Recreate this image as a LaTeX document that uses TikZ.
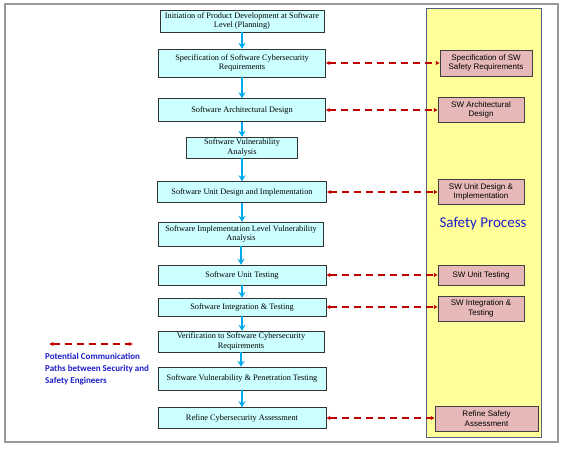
\documentclass[tikz,border=0pt]{standalone}
\usepackage{fontspec}
\setmainfont{Liberation Serif}
\newfontfamily\arialfont{Liberation Sans}
\newfontfamily\calibrifont{Carlito}
\usetikzlibrary{arrows.meta}
\definecolor{secfill}{RGB}{204,255,255}
\definecolor{safefill}{RGB}{230,185,184}
\definecolor{panelfill}{RGB}{255,255,153}
\definecolor{panelline}{RGB}{80,100,130}
\definecolor{flowblue}{RGB}{0,170,235}
\definecolor{commred}{RGB}{192,0,0}
\definecolor{textblue}{RGB}{30,30,200}
\begin{document}
\begin{tikzpicture}[x=1pt, y=-1pt,
    secbox/.style={draw=black!80, fill=secfill, inner sep=0pt, align=center,
        font=\fontsize{8.3}{9.5}\selectfont},
    safebox/.style={draw=black!75, fill=safefill, inner sep=0pt, align=center,
        font=\arialfont\fontsize{8}{9.5}\selectfont},
    flow/.style={flowblue, line width=2pt, -{Stealth[length=6pt,width=7pt]}},
    comm/.style={commred, line width=2pt, dash pattern=on 7pt off 5pt,
        {Latex[length=4pt,width=4.5pt]}-{Latex[length=4pt,width=4.5pt]}}]
            \useasboundingbox (0,0) rectangle (568,449);
            % frame and safety panel
            \draw[gray!80, line width=1.5pt] (5,4) rectangle (558,442);
            \draw[panelline, fill=panelfill, line width=1pt] (426,9) rectangle (541,437);

            % Nodes with manual coordinates
            \node[secbox, minimum width=164pt, minimum height=22pt] (s1) at (242,21)
                {Initiation of Product Development at Software\\Level (Planning)};
            \node[secbox, minimum width=167pt, minimum height=28pt] (s2) at (242,63)
                {Specification of Software Cybersecurity\\Requirements};
            \node[secbox, minimum width=167pt, minimum height=23pt] (s3) at (242,110)
                {Software Architectural Design};
            \node[secbox, minimum width=111pt, minimum height=21pt] (s4) at (242,147.5)
                {Software Vulnerability\\Analysis};
            \node[secbox, minimum width=169pt, minimum height=21pt] (s5) at (242,192)
                {Software Unit Design and Implementation};
            \node[secbox, minimum width=165pt, minimum height=24pt] (s6) at (241,234)
                {Software Implementation Level Vulnerability\\Analysis};
            \node[secbox, minimum width=168pt, minimum height=20pt] (s7) at (242,275)
                {Software Unit Testing};
            \node[secbox, minimum width=168pt, minimum height=18pt] (s8) at (242,307)
                {Software Integration \& Testing};
            \node[secbox, minimum width=166pt, minimum height=21pt] (s9) at (241,341.5)
                {Verification to Software Cybersecurity\\Requirements};
            \node[secbox, minimum width=168pt, minimum height=23pt] (s10) at (242,378.5)
                {Software Vulnerability \& Penetration Testing};
            \node[secbox, minimum width=168pt, minimum height=21pt] (s11) at (242,418)
                {Refine Cybersecurity Assessment};

            \node[safebox, minimum width=92pt, minimum height=26pt] (f1) at (486,63)
                {Specification of SW\\Safety Requirements};
            \node[safebox, minimum width=86pt, minimum height=25pt] (f2) at (481,110)
                {SW Architectural\\Design};
            \node[safebox, minimum width=86pt, minimum height=25pt] (f3) at (481,192)
                {SW Unit Design \&\\Implementation};
            \node[safebox, minimum width=86pt, minimum height=20pt] (f4) at (481,275)
                {SW Unit Testing};
            \node[safebox, minimum width=86pt, minimum height=25pt] (f5) at (481,308.5)
                {SW Integration \&\\Testing};
            \node[safebox, minimum width=103pt, minimum height=25pt] (f6) at (486.5,418.5)
                {Refine Safety\\Assessment};

            \node[textblue, font=\calibrifont\fontsize{15}{17}\selectfont] (title) at (483,224)
                {Safety Process};

            % legend
            \coordinate (l1) at (49,344);
            \coordinate (l2) at (133,344);
            \node[anchor=north west, align=left, inner sep=0pt, text=textblue,
                font=\calibrifont\bfseries\fontsize{9}{12}\selectfont] (legend) at (45,352.5)
                {Potential Communication\\Paths between Security and\\Safety Engineers};

            % Edges
            \foreach \a/\b in {s1/s2, s2/s3, s3/s4, s4/s5, s5/s6, s6/s7, s7/s8, s8/s9, s9/s10, s10/s11}
                \draw[flow] (\a.south) -- (\a.south |- \b.north);
            \foreach \a/\b in {s2/f1, s3/f2, s5/f3, s7/f4, s8/f5, s11/f6}
                \draw[comm] (\a.east) -- (\a.east -| \b.west);
            \draw[comm] (l1) -- (l2);
        \end{tikzpicture}
\end{document}
